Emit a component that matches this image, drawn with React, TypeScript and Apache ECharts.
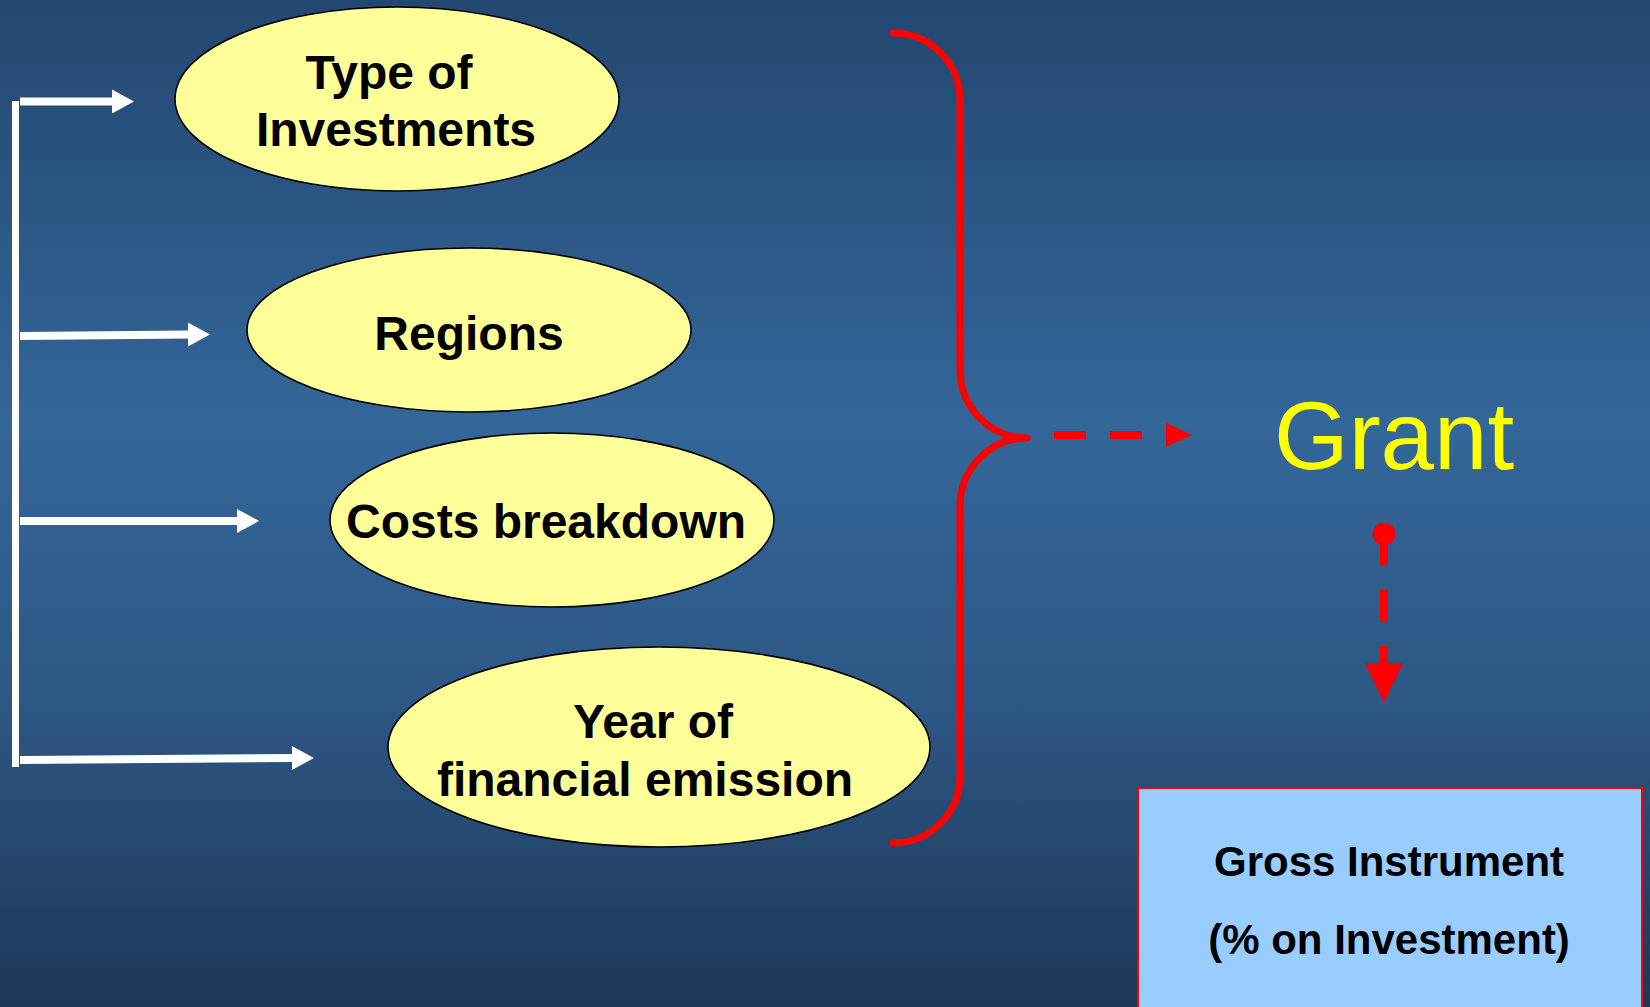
import React, { useEffect, useRef } from "react";
import * as echarts from "echarts";

// ---- content ----
const factorLabels: string[] = [
  "Type of\nInvestments",
  "Regions",
  "Costs breakdown",
  "Year of\nfinancial emission",
];
const resultLabel = "Grant";
const outcomeLines: string[] = ["Gross Instrument", "(% on Investment)"];

// ---- layout (positions / sizes) ----
const W = 1650;
const H = 1007;
const ellipses = [
  { cx: 397, cy: 99, rx: 222, ry: 92, lines: [[389, 72], [396, 129]] },
  { cx: 469, cy: 330, rx: 222, ry: 82, lines: [[469, 333]] },
  { cx: 552, cy: 520, rx: 222, ry: 87, lines: [[546, 521]] },
  { cx: 659, cy: 747, rx: 271, ry: 100, lines: [[653, 721], [645, 779]] },
];
const feeders = [
  { x1: 20, y1: 101.5, x2: 112, y2: 101.5, tip: 134 },
  { x1: 20, y1: 336, x2: 188, y2: 334.5, tip: 210 },
  { x1: 20, y1: 521, x2: 237, y2: 521, tip: 259 },
  { x1: 20, y1: 760, x2: 292, y2: 758, tip: 314 },
];

const BRACE_D =
  "M 893 33 C 930 33 960 63 960 100 L 960 370 C 960 407 990 438 1027 438 " +
  "C 990 438 960 469 960 506 L 960 776 C 960 813 930 843 893 843";

echarts.graphic.registerShape("brace", echarts.graphic.extendPath(BRACE_D, {}));

export default function App() {
  const ref = useRef<HTMLDivElement>(null);
  useEffect(() => {
    if (!ref.current) return;
    const chart = echarts.init(ref.current, null, { renderer: "svg", width: W, height: H });
    const elements: any[] = [];

    // background
    elements.push({
      type: "rect",
      shape: { x: 0, y: 0, width: W, height: H },
      style: {
        fill: new echarts.graphic.LinearGradient(0, 0, 0, 1, [
          { offset: 0, color: "#234770" },
          { offset: 0.42, color: "#336699" },
          { offset: 0.7, color: "#2d5784" },
          { offset: 1, color: "#1c3756" },
        ]),
      },
      z: 0,
    });

    // white bracket / feeder arrows
    elements.push({
      type: "line",
      shape: { x1: 15.5, y1: 101, x2: 15.5, y2: 767 },
      style: { stroke: "#ffffff", lineWidth: 7 },
      z: 2,
    });
    feeders.forEach((f) => {
      elements.push({
        type: "line",
        shape: { x1: f.x1, y1: f.y1, x2: f.x2 + 1, y2: f.y2 },
        style: { stroke: "#ffffff", lineWidth: 8 },
        z: 2,
      });
      elements.push({
        type: "polygon",
        shape: {
          points: [
            [f.x2, f.y2 - 12],
            [f.tip, f.y2],
            [f.x2, f.y2 + 12],
          ],
        },
        style: { fill: "#ffffff" },
        z: 2,
      });
    });

    // ellipses with labels
    ellipses.forEach((e, i) => {
      elements.push({
        type: "ellipse",
        shape: { cx: e.cx, cy: e.cy, rx: e.rx, ry: e.ry },
        style: { fill: "#ffff99", stroke: "#000000", lineWidth: 1.6 },
        z: 3,
      });
      const parts = factorLabels[i].split("\n");
      parts.forEach((p, j) => {
        const pos = e.lines[j];
        elements.push({
          type: "text",
          x: pos[0],
          y: pos[1],
          style: {
            text: p,
            fill: "#000000",
            font: "bold 48px 'Liberation Sans', Arial, sans-serif",
            align: "center",
            verticalAlign: "middle",
          },
          z: 4,
        });
      });
    });

    // red brace
    elements.push({
      type: "brace",
      x: 0,
      y: 0,
      scaleX: 1,
      scaleY: 1,
      style: { fill: "none", stroke: "#ff0000", lineWidth: 7, lineCap: "round", lineJoin: "round" },
      z: 5,
    });

    // horizontal dashed arrow to Grant
    elements.push({
      type: "line",
      shape: { x1: 1054, y1: 435, x2: 1168, y2: 435 },
      style: { stroke: "#ff0000", lineWidth: 8, lineDash: [32, 24] },
      z: 5,
    });
    elements.push({
      type: "polygon",
      shape: { points: [[1166, 423], [1192, 435], [1166, 447]] },
      style: { fill: "#ff0000" },
      z: 5,
    });

    // Grant
    elements.push({
      type: "text",
      x: 1394,
      y: 435,
      style: {
        text: resultLabel,
        fill: "#ffff00",
        font: "96px 'Liberation Sans', Arial, sans-serif",
        align: "center",
        verticalAlign: "middle",
      },
      z: 5,
    });

    // vertical dashed arrow
    elements.push({
      type: "circle",
      shape: { cx: 1384, cy: 534, r: 11.5 },
      style: { fill: "#ff0000" },
      z: 5,
    });
    elements.push({
      type: "line",
      shape: { x1: 1384, y1: 534, x2: 1384, y2: 665 },
      style: { stroke: "#ff0000", lineWidth: 8, lineDash: [32, 24] },
      z: 5,
    });
    elements.push({
      type: "polygon",
      shape: { points: [[1365, 663], [1384, 703], [1403, 663]] },
      style: { fill: "#ff0000" },
      z: 5,
    });

    // outcome box
    elements.push({
      type: "rect",
      shape: { x: 1138, y: 788, width: 504, height: 240 },
      style: { fill: "#99ccff", stroke: "#ff0000", lineWidth: 2 },
      z: 5,
    });
    outcomeLines.forEach((t, i) => {
      elements.push({
        type: "text",
        x: 1389,
        y: 861 + i * 78,
        style: {
          text: t,
          fill: "#000000",
          font: "bold 42px 'Liberation Sans', Arial, sans-serif",
          align: "center",
          verticalAlign: "middle",
        },
        z: 6,
      });
    });

    chart.setOption({ animation: false, graphic: { elements } });
    return () => chart.dispose();
  }, []);

  return (
    <div
      ref={ref}
      style={{ position: "absolute", left: 0, top: 0, width: W, height: H, overflow: "hidden" }}
    />
  );
}
